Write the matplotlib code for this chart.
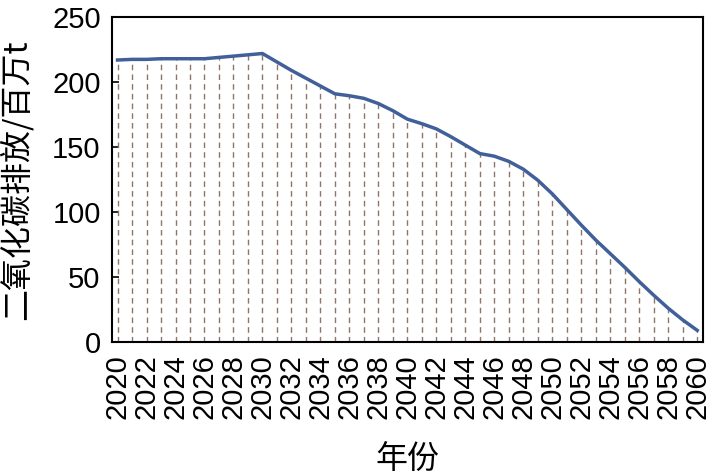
import numpy as np
import matplotlib
matplotlib.use('Agg')
import matplotlib.pyplot as plt

plt.rcParams['font.family'] = ['Liberation Sans', 'Noto Sans CJK SC', 'DejaVu Sans']

# yearly CO2 emission (million t)
years = list(range(2020, 2061))
emission = [217, 217.5, 217.5, 218, 218, 218, 218, 219, 220, 221, 222,
            215.5, 209, 203, 197, 191, 189.5, 187.5, 183.5, 178, 171.5,
            168, 164, 158, 151.5, 145, 143, 139, 133, 124.5, 114,
            102, 90, 78.5, 68, 57.5, 46.5, 36, 26, 17, 9]
tick_years = list(range(2020, 2061, 2))

fig = plt.figure(figsize=(7.21, 4.76), dpi=100)
ax = fig.add_axes([0.155, 0.2815, 0.82, 0.6825])

# dashed drop lines from each point to the x axis
ax.vlines(years, 0, emission, colors='#8f7468', linewidth=1.0,
          linestyles=(0, (4, 3)))
ax.plot(years, emission, color='#41609a', linewidth=2.5)

ax.set_xlim(2019.6, 2060.4)
ax.set_ylim(0, 250)
ax.set_xticks(tick_years)
ax.set_xticklabels([str(y) for y in tick_years], rotation=90, fontsize=21)
ax.set_yticks([0, 50, 100, 150, 200, 250])
ax.tick_params(axis='y', direction='in', labelsize=21, length=5, width=1.2, pad=8)
ax.tick_params(axis='x', direction='in', length=0, pad=9)

for s in ax.spines.values():
    s.set_linewidth(1.5)

ax.set_ylabel('二氧化碳排放/百万t', fontsize=23,
              family=['Noto Sans CJK SC', 'DejaVu Sans'], labelpad=14)
ax.set_xlabel('年份', fontsize=23, family=['Noto Sans CJK SC'], labelpad=18)

fig.savefig('out.png', dpi=100)
